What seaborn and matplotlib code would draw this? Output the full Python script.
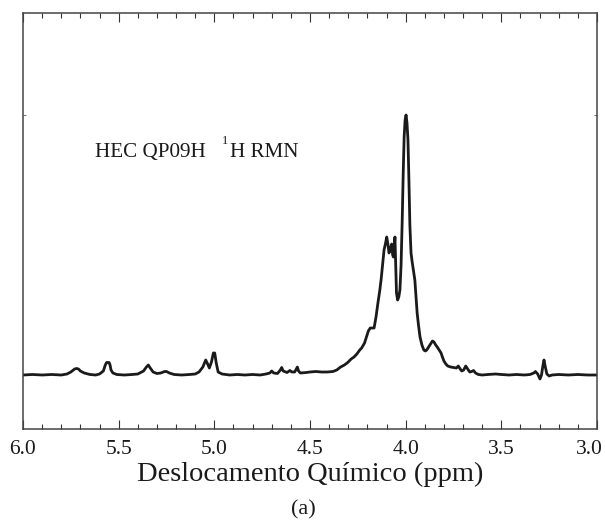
import numpy as np
import pandas as pd
import matplotlib
matplotlib.use("Agg")
import matplotlib.pyplot as plt
import matplotlib.transforms as mtransforms
import seaborn as sns
from matplotlib.ticker import MultipleLocator

# chemical shift (ppm) and intensity (arbitrary units)
ppm = [6.00, 5.95, 5.90, 5.85, 5.80, 5.77, 5.75, 5.73, 5.72, 5.71, 5.70, 5.68, 5.65, 5.62,
       5.60, 5.58, 5.57, 5.563, 5.55, 5.545, 5.54, 5.53, 5.51, 5.47, 5.43, 5.40, 5.37, 5.355,
       5.345, 5.335, 5.32, 5.30, 5.28, 5.26, 5.25, 5.235, 5.21, 5.17, 5.13, 5.10, 5.08, 5.06,
       5.045, 5.035, 5.026, 5.015, 5.005, 4.998, 4.99, 4.98, 4.96, 4.92, 4.88, 4.84, 4.80,
       4.76, 4.73, 4.71, 4.70, 4.69, 4.67, 4.655, 4.648, 4.64, 4.62, 4.605, 4.595, 4.58,
       4.566, 4.56, 4.55, 4.52, 4.50, 4.47, 4.44, 4.41, 4.38, 4.36, 4.34, 4.32, 4.30, 4.285,
       4.27, 4.255, 4.24, 4.23, 4.215, 4.205, 4.195, 4.185, 4.175, 4.165, 4.155, 4.145,
       4.135, 4.128, 4.12, 4.113, 4.105, 4.099, 4.093, 4.087, 4.08, 4.073, 4.068, 4.064,
       4.06, 4.056, 4.052, 4.048, 4.042, 4.036, 4.03, 4.024, 4.018, 4.013, 4.008, 4.003,
       3.998, 3.993, 3.988, 3.983, 3.978, 3.972, 3.966, 3.958, 3.952, 3.946, 3.94, 3.933,
       3.925, 3.915, 3.905, 3.897, 3.89, 3.88, 3.87, 3.86, 3.852, 3.843, 3.835, 3.825,
       3.815, 3.808, 3.80, 3.79, 3.78, 3.765, 3.75, 3.735, 3.725, 3.715, 3.707, 3.697,
       3.686, 3.676, 3.665, 3.655, 3.645, 3.635, 3.62, 3.60, 3.57, 3.53, 3.50, 3.46, 3.42,
       3.38, 3.35, 3.33, 3.322, 3.31, 3.298, 3.29, 3.283, 3.277, 3.27, 3.262, 3.25, 3.235,
       3.20, 3.15, 3.10, 3.05, 3.00]
intensity = [0, 0.5, 0, 0.5, 0, 1, 3, 6, 6.5, 6, 4, 2, 0.5, 0,
             1, 4, 10, 12.5, 12.5, 10, 5, 2, 0.5, 0, 0.5, 1, 4, 8,
             10, 7, 3, 1.5, 2, 3.5, 3.5, 2, 0.5, 0, 0.5, 1, 3, 8,
             15, 11, 7, 13, 22, 22, 12, 3, 1, 0, 0.5, 0, 0.5,
             0, 1, 2, 4, 2, 1.5, 5, 7.5, 4, 2.5, 4.5, 3, 3,
             8, 4, 2, 2.5, 3, 3.5, 3, 3, 3.5, 5, 8, 10, 13, 16,
             18, 21, 25, 27, 32, 38, 44, 47, 47, 47, 58, 72,
             85, 96, 112, 125, 132, 138, 131, 122, 126, 131, 120, 118,
             128, 138, 110, 82, 75, 78, 85, 110, 155, 200, 238, 255,
             260, 252, 235, 195, 150, 122, 113, 103, 95, 78, 62, 50,
             38, 30, 25, 24, 25, 28, 31, 34, 33, 30, 28, 25,
             22, 18, 14, 11, 9, 8, 7.5, 7, 9, 6, 4, 5,
             9, 6, 3, 3.5, 4.5, 2, 0.5, 0, 0.5, 1, 0.5, 0, 0.5,
             0, 0.5, 2, 3.5, 1, -4, 0, 9, 15, 8, 1, -1, 0,
             0.5, 0, 0.5, 0, 0]

xticks = [6.0, 5.5, 5.0, 4.5, 4.0, 3.5, 3.0]
xtick_labels = ["6.0", "5.5", "5.0", "4.5", "4.0", "3.5", "3.0"]

df = pd.DataFrame({"ppm": ppm, "intensity": intensity})

sns.set_style("ticks")
plt.rcParams["font.family"] = ["Liberation Serif", "DejaVu Serif"]

fig = plt.figure(figsize=(6.05, 5.26), dpi=100)
ax = fig.add_axes([23/605, 1-429/526, 574/605, 416/526])

sns.lineplot(data=df, x="ppm", y="intensity", sort=False, estimator=None,
             color="#1a1a1a", linewidth=2.0, ax=ax)

ax.set_xlim(6.0, 3.0)
ax.set_ylim(-54, 362)
ax.set_xticks(xticks)
ax.set_xticklabels(xtick_labels)
ax.xaxis.set_minor_locator(MultipleLocator(0.1))
ax.set_yticks([0, 260])
ax.set_yticklabels([])
ax.tick_params(axis="x", which="major", direction="in", length=6.5, width=0.8,
               top=True, bottom=True, labelsize=15.5, pad=8, colors="#333333",
               labelcolor="#1a1a1a")
ax.tick_params(axis="x", which="minor", direction="in", length=3.5, width=0.8,
               top=True, bottom=True, colors="#333333")
ax.tick_params(axis="y", which="major", direction="in", length=2, width=0.6,
               left=True, right=True, colors="#555555")
for s in ax.spines.values():
    s.set_linewidth(1.1)
    s.set_color("#444444")

# the last label is nudged left so it stays inside the figure, as in the reference
last = ax.get_xticklabels()[-1]
last.set_transform(last.get_transform() +
                   mtransforms.ScaledTranslation(-8/100, 0, fig.dpi_scale_trans))

ax.set_xlabel("Deslocamento Químico (ppm)", fontsize=20.5, labelpad=2, color="#1a1a1a")
ax.set_ylabel("")

ax.text(0.1254, 0.6546, "HEC QP09H", transform=ax.transAxes, fontsize=15.2,
        ha="left", va="baseline", color="#1a1a1a")
ax.text(0.3467, 0.684, "1", transform=ax.transAxes, fontsize=9,
        ha="left", va="baseline", color="#1a1a1a")
ax.text(0.3606, 0.6546, "H RMN", transform=ax.transAxes, fontsize=15.2,
        ha="left", va="baseline", color="#1a1a1a")

fig.text(303/605, 1-510/526, "(a)", fontsize=16, ha="center", va="center", color="#1a1a1a")

fig.savefig("out.png", dpi=100)
